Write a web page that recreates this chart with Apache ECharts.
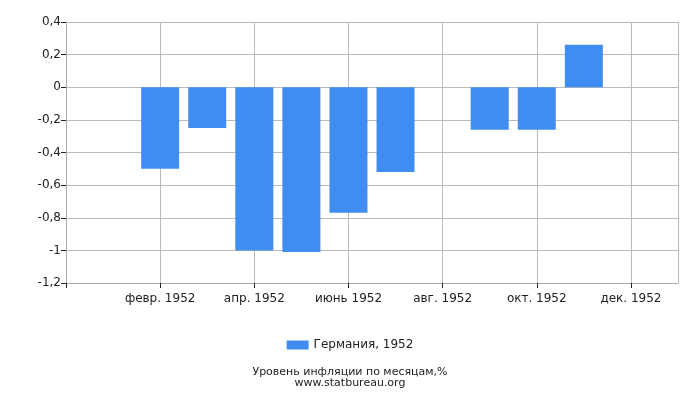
<!DOCTYPE html>
<html>
<head>
<meta charset="utf-8">
<script src="https://cdn.jsdelivr.net/npm/echarts@6/dist/echarts.min.js"></script>
<style>
  html, body { margin: 0; padding: 0; background: #fff; }
  #main { width: 700px; height: 400px; }
</style>
</head>
<body>
<div id="main"></div>
<script>
// месяцы (позиции 0 и 13 - пустые поля по краям оси)
var months = ['', 'янв. 1952', 'февр. 1952', 'март 1952', 'апр. 1952', 'май 1952', 'июнь 1952',
              'июль 1952', 'авг. 1952', 'сент. 1952', 'окт. 1952', 'нояб. 1952', 'дек. 1952', ''];
// инфляция, %
var inflation = [null, 0, -0.5, -0.25, -1.0, -1.01, -0.77, -0.52, 0, -0.26, -0.26, 0.26, 0, null];
var seriesName = 'Германия, 1952';
var yTicks = { min: -1.2, max: 0.4, step: 0.2 };

var font = 'DejaVu Sans';

function fmtY(v) {
	var r = Math.round(v * 10) / 10;
	return String(r).replace('.', ',');
}

var myChart = echarts.init(document.getElementById('main'));
var option = {
	animation: false,
	grid: { left: 66, right: 22, top: 22, bottom: 117 },
	title: {
		text: 'Уровень инфляции по месяцам,%\nwww.statbureau.org',
		left: 'center',
		top: 362,
		textStyle: { fontFamily: font, fontSize: 11, fontWeight: 'normal', color: '#222', lineHeight: 11 }
	},
	legend: {
		data: [seriesName],
		left: 'center',
		top: 334,
		itemWidth: 22,
		itemHeight: 9,
		icon: 'rect',
		textStyle: { fontFamily: font, fontSize: 12, color: '#222' }
	},
	xAxis: {
		type: 'category',
		data: months,
		boundaryGap: false,
		axisLine: { onZero: false, lineStyle: { color: '#aaa' } },
		axisTick: {
			interval: function (i) { return i % 2 == 0 && i < 13; },
			length: 5,
			lineStyle: { color: '#222' }
		},
		axisLabel: {
			interval: function (i) { return i % 2 == 0 && i > 0 && i < 13; },
			fontFamily: font,
			fontSize: 12,
			color: '#222',
			margin: 10
		},
		splitLine: {
			show: true,
			interval: function (i) { return i % 2 == 0 || i == 13; },
			lineStyle: { color: '#bbb' }
		}
	},
	yAxis: {
		type: 'value',
		min: yTicks.min,
		max: yTicks.max,
		interval: yTicks.step,
		axisLine: { show: true, lineStyle: { color: '#aaa' } },
		axisTick: { show: true, length: 5, lineStyle: { color: '#222' } },
		axisLabel: {
			formatter: fmtY,
			fontFamily: font,
			fontSize: 12,
			color: '#222',
			margin: 5
		},
		splitLine: { lineStyle: { color: '#bbb' } }
	},
	series: [
		{
			name: seriesName,
			type: 'bar',
			data: inflation,
			barWidth: 38,
			itemStyle: { color: '#418cf0' }
		}
	]
};
myChart.setOption(option);
</script>
</body>
</html>
